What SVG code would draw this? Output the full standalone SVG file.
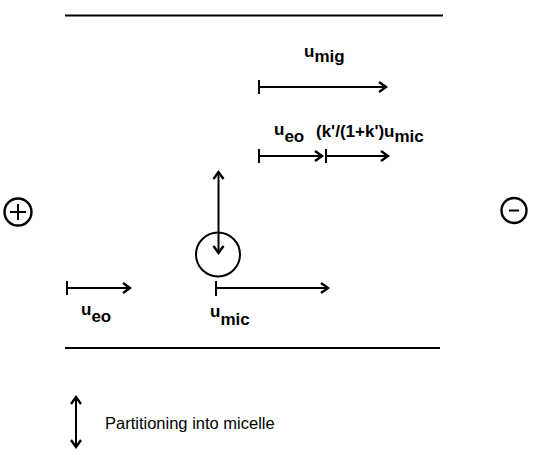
<svg xmlns="http://www.w3.org/2000/svg" width="535" height="449" viewBox="0 0 535 449">
<defs>
<marker id="ah" markerWidth="14" markerHeight="14" refX="10" refY="7" orient="auto-start-reverse" markerUnits="userSpaceOnUse">
<polyline points="3,2 10,7 3,12" fill="none" stroke="#000" stroke-width="2.4" stroke-linejoin="miter"/>
</marker>
</defs>
<style>
.ln{stroke:#000;stroke-width:2;fill:none}
.ar{stroke:#000;stroke-width:2;fill:none;marker-end:url(#ah)}
.tk{stroke:#000;stroke-width:2}
.lb{font-family:"Liberation Sans",Arial,sans-serif;font-size:17px;font-weight:bold;fill:#000}
.lg{font-family:"Liberation Sans",Arial,sans-serif;font-size:16.5px;fill:#000}
</style>
<rect width="535" height="449" fill="#fff"/>
<g id="walls">
<line class="ln" x1="65" y1="15.5" x2="443" y2="15.5"/>
<line class="ln" x1="65" y1="348" x2="440" y2="348"/>
</g>
<g id="anode">
<circle cx="18" cy="212" r="13.5" fill="none" stroke="#000" stroke-width="2.4"/>
<line class="tk" x1="10" y1="212" x2="26" y2="212" stroke-width="3.2"/>
<line class="tk" x1="18" y1="204" x2="18" y2="220" stroke-width="3.2"/>
</g>
<g id="cathode">
<circle cx="514" cy="210.5" r="12.5" fill="none" stroke="#000" stroke-width="2.4"/>
<line class="tk" x1="509" y1="210.5" x2="519" y2="210.5" stroke-width="3.2"/>
</g>
<g id="micelle">
<circle cx="218" cy="254.5" r="22" fill="none" stroke="#000" stroke-width="2"/>
</g>
<g id="connectors">
<line class="ar" x1="259" y1="87" x2="386" y2="87"/>
<line class="tk" x1="259" y1="80" x2="259" y2="94"/>
<line class="ar" x1="259" y1="156" x2="322" y2="156"/>
<line class="tk" x1="259" y1="149" x2="259" y2="163"/>
<line class="ar" x1="326" y1="156" x2="388" y2="156"/>
<line class="tk" x1="326" y1="149" x2="326" y2="163"/>
<line class="ar" x1="218.5" y1="172" x2="218.5" y2="253" marker-start="url(#ah)" stroke-width="2.6"/>
<line class="ar" x1="216" y1="288" x2="328" y2="288"/>
<line class="tk" x1="216" y1="281" x2="216" y2="296"/>
<line class="ar" x1="67" y1="288" x2="130" y2="288"/>
<line class="tk" x1="67" y1="281" x2="67" y2="295"/>
<line class="ar" x1="76" y1="397" x2="76" y2="447" marker-start="url(#ah)" stroke-width="2.6"/>
</g>
<g id="labels">
<text class="lb" x="304" y="57">u<tspan dy="5">mig</tspan></text>
<text class="lb" x="274" y="135">u<tspan dy="7">eo</tspan></text>
<text class="lb" x="316" y="137">(k'/(1+k')u<tspan dy="5">mic</tspan></text>
<text class="lb" x="81" y="315">u<tspan dy="7">eo</tspan></text>
<text class="lb" x="210" y="317">u<tspan dy="8">mic</tspan></text>
<text class="lg" x="105" y="429">Partitioning into micelle</text>
</g>
</svg>
